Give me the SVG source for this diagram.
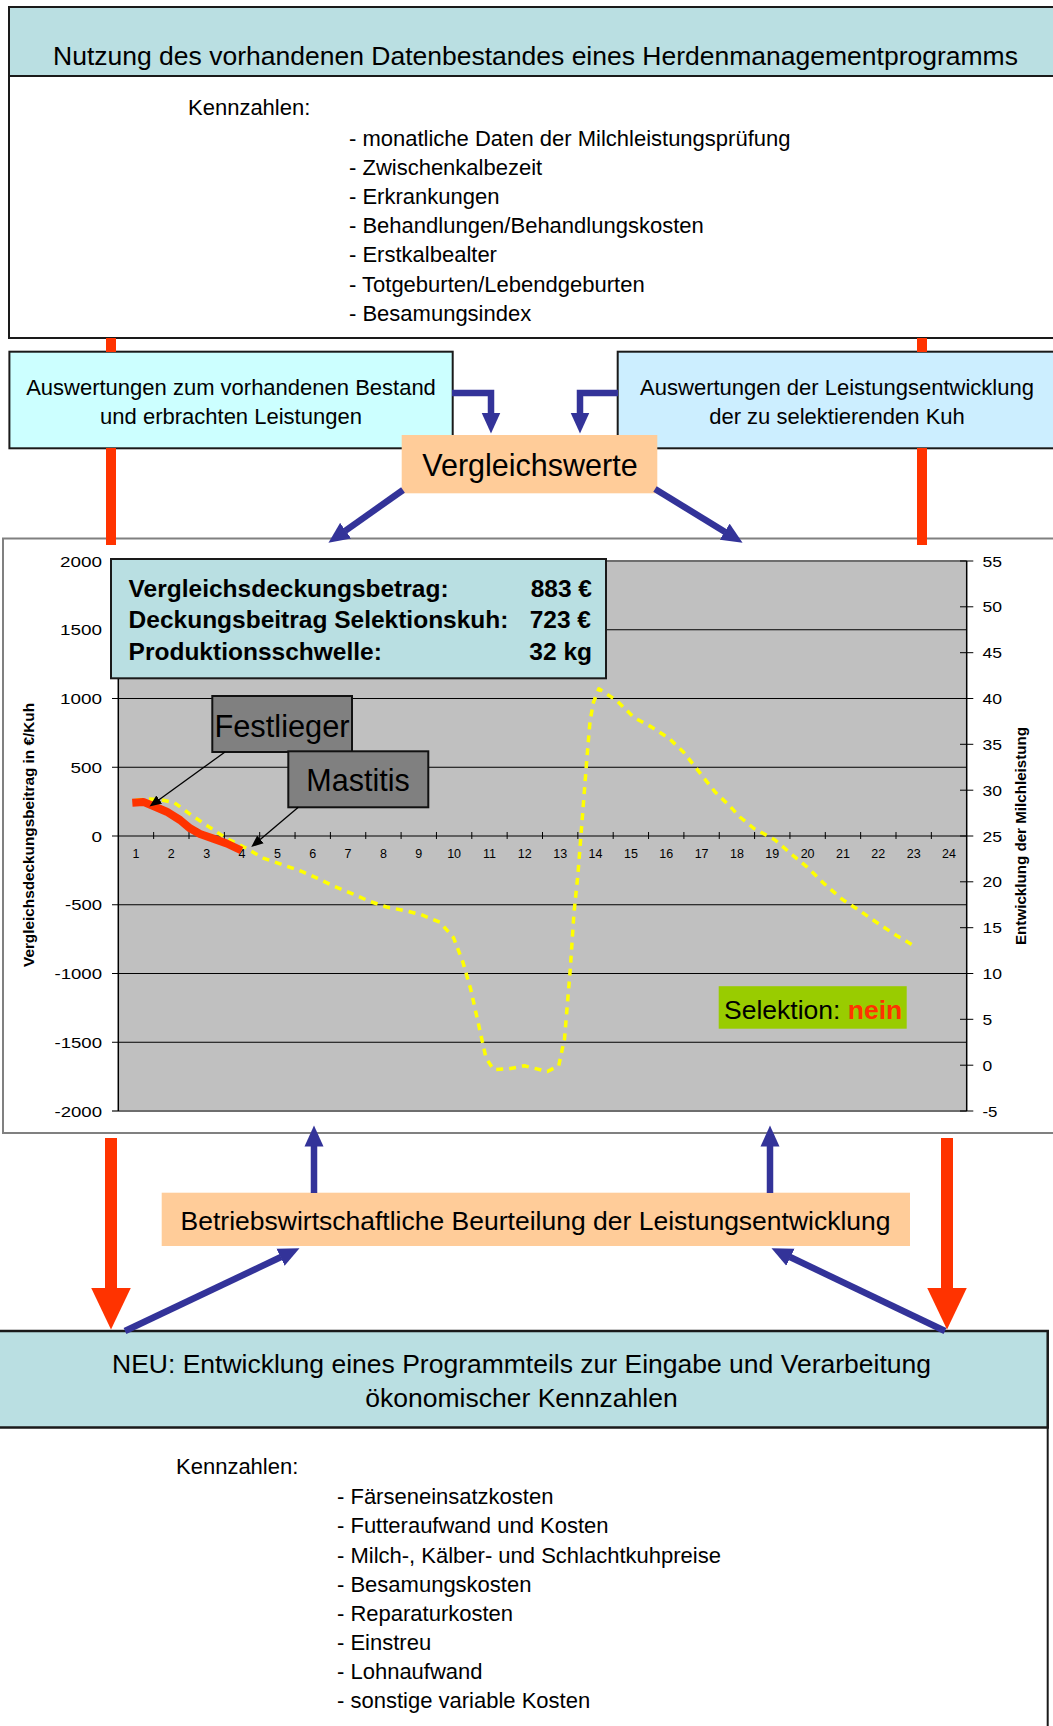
<svg xmlns="http://www.w3.org/2000/svg" width="1053" height="1726" viewBox="0 0 1053 1726">
<defs>
<style>
text{font-family:'Liberation Sans',Arial,sans-serif;fill:#000}
.h{font-size:26.5px}
.k{font-size:22px}
.ax{font-size:15.5px}
.axl{text-anchor:end}
.cat{font-size:12.5px;text-anchor:middle}
.b{font-weight:bold}
.box{stroke:#1a1a1a;stroke-width:2}
.blue{stroke:#333399;stroke-width:6.5;fill:none;marker-end:url(#hb)}
.red{stroke:#ff3300;fill:none}
.call{stroke:#000;stroke-width:1.3;fill:none;marker-end:url(#hk)}
.grid{stroke:#000;stroke-width:1;fill:none}
.info{font-size:24.5px;font-weight:bold}
</style>
<marker id="hb" markerUnits="userSpaceOnUse" markerWidth="22" markerHeight="20" viewBox="0 -10 22 20" refX="0.5" refY="0" orient="auto"><path d="M0,-9.5 L21,0 L0,9.5z" fill="#333399"/></marker>
<marker id="hr" markerUnits="userSpaceOnUse" markerWidth="43" markerHeight="42" viewBox="0 -21 43 42" refX="0.5" refY="0" orient="auto"><path d="M0,-20 L42,0 L0,20z" fill="#ff3300"/></marker>
<marker id="hk" markerUnits="userSpaceOnUse" markerWidth="13" markerHeight="12" viewBox="0 -6 13 12" refX="0.3" refY="0" orient="auto"><path d="M0,-5 L12,0 L0,5z" fill="#000"/></marker>
</defs>
<rect x="0" y="0" width="1053" height="1726" fill="#fff"/>

<g id="top-box">
<rect x="9" y="7" width="1060" height="331" fill="#fff" class="box"/>
<rect x="9" y="7" width="1060" height="69" fill="#badfe2" class="box"/>
<text class="h" x="535.5" y="65" text-anchor="middle">Nutzung des vorhandenen Datenbestandes eines Herdenmanagementprogramms</text>
<text class="k" x="188" y="115">Kennzahlen:</text>
<text class="k" x="349" y="145.7">- monatliche Daten der Milchleistungsprüfung</text>
<text class="k" x="349" y="174.9">- Zwischenkalbezeit</text>
<text class="k" x="349" y="204">- Erkrankungen</text>
<text class="k" x="349" y="233.2">- Behandlungen/Behandlungskosten</text>
<text class="k" x="349" y="262.4">- Erstkalbealter</text>
<text class="k" x="349" y="291.6">- Totgeburten/Lebendgeburten</text>
<text class="k" x="349" y="320.7">- Besamungsindex</text>
</g>

<g id="bestand-box">
<rect x="9.4" y="351.7" width="443.3" height="96.6" fill="#ccffff" class="box"/>
<text class="k" x="231" y="395" text-anchor="middle">Auswertungen zum vorhandenen Bestand</text>
<text class="k" x="231" y="424" text-anchor="middle">und erbrachten Leistungen</text>
</g>

<g id="leistung-box">
<rect x="617.7" y="351.7" width="450" height="96.6" fill="#cceeff" class="box"/>
<text class="k" x="837" y="395" text-anchor="middle">Auswertungen der Leistungsentwicklung</text>
<text class="k" x="837" y="424" text-anchor="middle">der zu selektierenden Kuh</text>
</g>

<g id="vergleichswerte">
<rect x="401.7" y="435" width="255.6" height="58.3" fill="#ffcc99"/>
<text x="530" y="476" font-size="30.5" text-anchor="middle">Vergleichswerte</text>
</g>

<g id="chart">
<rect x="3" y="538.5" width="1060" height="594.5" fill="#fff" stroke="#808080" stroke-width="2"/>
<rect x="118.3" y="561" width="848.4" height="550" fill="#c0c0c0"/>
<path class="grid" d="M112,629.75H966.7M112,698.5H966.7M112,767.25H966.7M112,836H966.7M112,904.75H966.7M112,973.5H966.7M112,1042.25H966.7"/>
<path d="M112,561H966.7M112,1111H966.7" stroke="#6e6e6e" stroke-width="2" fill="none"/>
<path d="M118.3,561V1111M966.7,561V1111" stroke="#000" stroke-width="1.5" fill="none"/>
<path class="grid" d="M960,561H973.3M960,606.8H973.3M960,652.7H973.3M960,698.5H973.3M960,744.3H973.3M960,790.2H973.3M960,836H973.3M960,881.8H973.3M960,927.7H973.3M960,973.5H973.3M960,1019.3H973.3M960,1065.2H973.3M960,1111H973.3"/>
<path class="grid" d="M153.65,832V839M189,832V839M224.35,832V839M259.7,832V839M295.05,832V839M330.4,832V839M365.75,832V839M401.1,832V839M436.45,832V839M471.8,832V839M507.15,832V839M542.5,832V839M577.85,832V839M613.2,832V839M648.55,832V839M683.9,832V839M719.25,832V839M754.6,832V839M789.95,832V839M825.3,832V839M860.65,832V839M896,832V839M931.35,832V839"/>
<g class="cat">
<text x="136" y="857.5">1</text><text x="171.3" y="857.5">2</text><text x="206.7" y="857.5">3</text><text x="242" y="857.5">4</text><text x="277.4" y="857.5">5</text><text x="312.7" y="857.5">6</text><text x="348.1" y="857.5">7</text><text x="383.4" y="857.5">8</text><text x="418.8" y="857.5">9</text><text x="454.1" y="857.5">10</text><text x="489.5" y="857.5">11</text><text x="524.8" y="857.5">12</text><text x="560.2" y="857.5">13</text><text x="595.5" y="857.5">14</text><text x="630.9" y="857.5">15</text><text x="666.2" y="857.5">16</text><text x="701.6" y="857.5">17</text><text x="736.9" y="857.5">18</text><text x="772.3" y="857.5">19</text><text x="807.6" y="857.5">20</text><text x="843" y="857.5">21</text><text x="878.3" y="857.5">22</text><text x="913.7" y="857.5">23</text><text x="949" y="857.5">24</text>
</g>
<g class="ax axl">
<text x="102" y="566.6" textLength="42" lengthAdjust="spacingAndGlyphs">2000</text><text x="102" y="635.3" textLength="42" lengthAdjust="spacingAndGlyphs">1500</text><text x="102" y="704.1" textLength="42" lengthAdjust="spacingAndGlyphs">1000</text><text x="102" y="772.8" textLength="31.5" lengthAdjust="spacingAndGlyphs">500</text><text x="102" y="841.6" textLength="10.5" lengthAdjust="spacingAndGlyphs">0</text><text x="102" y="910.3" textLength="37" lengthAdjust="spacingAndGlyphs">-500</text><text x="102" y="979.1" textLength="47.5" lengthAdjust="spacingAndGlyphs">-1000</text><text x="102" y="1047.8" textLength="47.5" lengthAdjust="spacingAndGlyphs">-1500</text><text x="102" y="1116.6" textLength="47.5" lengthAdjust="spacingAndGlyphs">-2000</text>
</g>
<g class="ax">
<text x="982.5" y="566.6" textLength="19.5" lengthAdjust="spacingAndGlyphs">55</text><text x="982.5" y="612.4" textLength="19.5" lengthAdjust="spacingAndGlyphs">50</text><text x="982.5" y="658.3" textLength="19.5" lengthAdjust="spacingAndGlyphs">45</text><text x="982.5" y="704.1" textLength="19.5" lengthAdjust="spacingAndGlyphs">40</text><text x="982.5" y="749.9" textLength="19.5" lengthAdjust="spacingAndGlyphs">35</text><text x="982.5" y="795.8" textLength="19.5" lengthAdjust="spacingAndGlyphs">30</text><text x="982.5" y="841.6" textLength="19.5" lengthAdjust="spacingAndGlyphs">25</text><text x="982.5" y="887.4" textLength="19.5" lengthAdjust="spacingAndGlyphs">20</text><text x="982.5" y="933.3" textLength="19.5" lengthAdjust="spacingAndGlyphs">15</text><text x="982.5" y="979.1" textLength="19.5" lengthAdjust="spacingAndGlyphs">10</text><text x="982.5" y="1024.9" textLength="9.7" lengthAdjust="spacingAndGlyphs">5</text><text x="982.5" y="1070.8" textLength="9.7" lengthAdjust="spacingAndGlyphs">0</text><text x="982.5" y="1116.6" textLength="15" lengthAdjust="spacingAndGlyphs">-5</text>
</g>
<text class="b" font-size="14" transform="translate(33.5,835) rotate(-90)" text-anchor="middle" textLength="264" lengthAdjust="spacingAndGlyphs">Vergleichsdeckungsbeitrag in €/Kuh</text>
<text class="b" font-size="14" transform="translate(1026,836) rotate(-90)" text-anchor="middle" textLength="218" lengthAdjust="spacingAndGlyphs">Entwicklung der Milchleistung</text>
<path d="M136,800 L150,799 L160.7,799.8 L174.1,802.5 L191.4,815.1 L208.6,826.6 L225.8,838 L244.9,847.6 L264,858.4 L283.2,864.9 L302.3,871.7 L317.6,878.3 L333,885.9 L352,893.6 L369.3,901.2 L386.5,907 L405.7,910.8 L421,914.6 L440,922.3 L453.5,937.6 L463,962.4 L470.7,989.2 L478.4,1023.7 L486,1058.1 L493.7,1069.6 L509,1068.8 L524.3,1065.8 L547.3,1071.5 L558.7,1065.8 L564.5,1039 L570.2,970.1 L574,912.7 L577.9,874.6 L581.5,828.5 L586.8,759.6 L590,721.4 L593.5,702.2 L598.8,688.8 L616.4,700.3 L634,717.5 L651.7,727.1 L669.3,738.6 L683.4,752 L694,765.4 L704.6,778.8 L715.2,792.1 L729.3,805.5 L739.9,817 L754,828.5 L775.1,840 L792.8,855.3 L806.9,866.8 L824.5,884 L842.2,899.3 L859.8,910.8 L879.2,924.2 L896.8,935.7 L916.2,947.1" stroke="#ffff00" stroke-width="3.5" stroke-dasharray="7 6" fill="none" stroke-linejoin="round"/>
<path class="red" stroke-width="8" stroke-linejoin="round" d="M132.3,802.7 L143.3,801.9 L153.3,806 L166.7,811.7 L180,820 L190,828.3 L200,834 L213.3,838.6 L226.7,843.5 L241.5,850.5"/>
</g>

<g id="kennwerte">
<rect x="111" y="559" width="495" height="119.3" fill="#b9dfe2" stroke="#1a1a1a" stroke-width="2"/>
<text class="info" x="128.6" y="596.7">Vergleichsdeckungsbetrag:</text>
<text class="info" x="128.6" y="628.3">Deckungsbeitrag Selektionskuh:</text>
<text class="info" x="128.6" y="660.3">Produktionsschwelle:</text>
<text class="info" x="592" y="596.7" text-anchor="end">883 €</text>
<text class="info" x="591" y="628.3" text-anchor="end">723 €</text>
<text class="info" x="592" y="660.3" text-anchor="end">32 kg</text>
</g>

<g id="festlieger">
<rect x="212.3" y="696" width="139.7" height="56" fill="#808080" stroke="#111" stroke-width="2"/>
<text x="282" y="737.3" font-size="30.8" text-anchor="middle">Festlieger</text>
</g>

<g id="mastitis">
<rect x="288.3" y="751.3" width="140" height="56" fill="#808080" stroke="#111" stroke-width="2"/>
<text x="358" y="791" font-size="30.5" text-anchor="middle">Mastitis</text>
</g>

<g id="selektion">
<rect x="718.7" y="986.2" width="188" height="42.5" fill="#99cc00"/>
<text x="724" y="1019" font-size="26.5">Selektion: <tspan font-weight="bold" fill="#ff3300">nein</tspan></text>
</g>

<g id="beurteilung">
<rect x="161.7" y="1192.7" width="748.3" height="53.3" fill="#ffcc99"/>
<text class="h" x="535.6" y="1230" text-anchor="middle">Betriebswirtschaftliche Beurteilung der Leistungsentwicklung</text>
</g>

<g id="neu-box">
<rect x="-5" y="1331" width="1052.7" height="420" fill="#fff" class="box"/>
<rect x="-5" y="1331" width="1052.7" height="96.5" fill="#badfe2" stroke="#1a1a1a" stroke-width="2.5"/>
<text class="h" x="521.5" y="1373.3" text-anchor="middle">NEU: Entwicklung eines Programmteils zur Eingabe und Verarbeitung</text>
<text class="h" x="521.5" y="1407.3" text-anchor="middle">ökonomischer Kennzahlen</text>
<text class="k" x="176" y="1474">Kennzahlen:</text>
<text class="k" x="337" y="1504.3">- Färseneinsatzkosten</text>
<text class="k" x="337" y="1533.4">- Futteraufwand und Kosten</text>
<text class="k" x="337" y="1562.6">- Milch-, Kälber- und Schlachtkuhpreise</text>
<text class="k" x="337" y="1591.7">- Besamungskosten</text>
<text class="k" x="337" y="1620.9">- Reparaturkosten</text>
<text class="k" x="337" y="1650">- Einstreu</text>
<text class="k" x="337" y="1679.2">- Lohnaufwand</text>
<text class="k" x="337" y="1708.3">- sonstige variable Kosten</text>
</g>

<g id="connectors">
<path class="red" stroke-width="10" d="M111,338V352M111,448V545M922,338V352M922,448V545"/>
<path class="red" stroke-width="12" d="M111,1138V1288" marker-end="url(#hr)"/>
<path class="red" stroke-width="12" d="M947,1138V1288" marker-end="url(#hr)"/>
<path class="blue" d="M452,393H491V413"/>
<path class="blue" d="M618,393H580V413"/>
<path class="blue" d="M403,490L345.2,530.9"/>
<path class="blue" d="M655,489L725.1,532"/>
<path class="blue" d="M314,1193V1146"/>
<path class="blue" d="M770,1193V1146"/>
<path class="blue" d="M125,1331L281,1257"/>
<path class="blue" d="M945,1331L790,1257"/>
<path class="call" d="M225,752L159,799.7"/>
<path class="call" d="M298.3,807.3L260.2,839.5"/>
</g>
</svg>
